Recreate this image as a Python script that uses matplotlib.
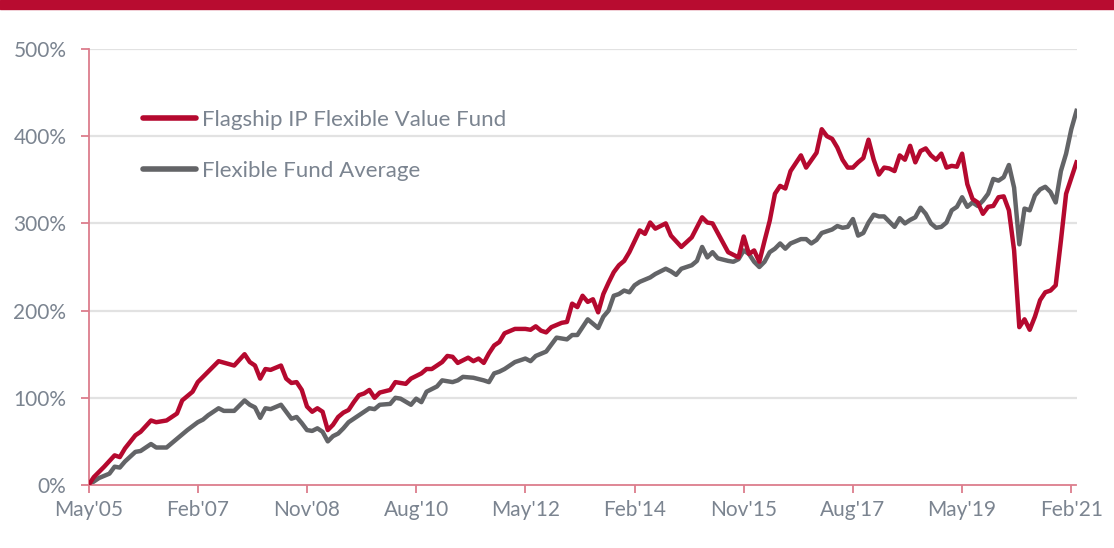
import matplotlib
matplotlib.use('Agg')
import matplotlib.pyplot as plt
from matplotlib.patches import Rectangle
from matplotlib.ticker import FuncFormatter

plt.rcParams['font.family'] = ['Lato', 'DejaVu Sans']

# months counted from May 2005 (0) up to Mar 2021 (190)
fund_month = [0, 1, 3, 5, 6, 7, 9, 10, 12, 13, 15, 17, 18, 20, 21, 22, 25, 28, 30, 31,
              32, 33, 34, 35, 37, 38, 39, 40, 41, 42, 43, 44, 45, 46, 47, 48, 49, 50, 51, 52,
              53, 54, 55, 56, 58, 59, 61, 62, 64, 65, 66, 68, 69, 70, 71, 73, 74, 75, 76, 77,
              78, 79, 80, 82, 84, 85, 86, 87, 88, 89, 91, 92, 93, 94, 95, 96, 97, 98, 99, 100,
              101, 102, 103, 104, 106, 107, 108, 109, 111, 112, 114, 116, 118, 119, 120, 122, 123, 125, 126, 127,
              128, 129, 130, 131, 132, 133, 134, 135, 137, 138, 140, 141, 142, 143, 144, 145, 146, 147, 148, 149,
              150, 151, 152, 153, 154, 155, 156, 157, 158, 159, 160, 161, 162, 163, 164, 165, 166, 167, 168, 169,
              170, 171, 172, 173, 174, 175, 176, 177, 178, 179, 180, 181, 182, 183, 184, 185, 186, 187, 188, 190]
fund_val = [0, 9, 21, 34, 32, 42, 57, 61, 74, 72, 74, 82, 97, 107, 118, 124, 142, 137, 150, 141,
            137, 122, 133, 132, 137, 122, 117, 118, 109, 90, 84, 88, 84, 63, 69, 78, 83, 86, 95, 103,
            105, 109, 100, 106, 109, 118, 116, 122, 128, 133, 133, 141, 148, 147, 140, 146, 142, 145, 140, 151,
            160, 164, 174, 179, 179, 178, 182, 177, 175, 181, 186, 187, 208, 204, 217, 210, 213, 198, 219, 232,
            244, 252, 257, 267, 292, 288, 301, 294, 300, 286, 273, 284, 307, 301, 300, 278, 267, 261, 285, 265,
            269, 256, 280, 303, 334, 343, 340, 360, 378, 364, 381, 408, 400, 397, 387, 373, 364, 364, 370, 375,
            396, 373, 356, 364, 363, 360, 378, 373, 389, 370, 383, 386, 378, 373, 380, 364, 366, 365, 380, 345,
            328, 324, 311, 319, 320, 330, 331, 315, 269, 181, 190, 178, 193, 212, 221, 223, 229, 280, 334, 370]

avg_month = [0, 2, 4, 5, 6, 7, 9, 10, 12, 13, 15, 16, 17, 19, 21, 22, 23, 25, 26, 28,
             30, 31, 32, 33, 34, 35, 37, 38, 39, 40, 41, 42, 43, 44, 45, 46, 47, 48, 49, 50,
             52, 54, 55, 56, 58, 59, 60, 62, 63, 64, 65, 67, 68, 70, 71, 72, 74, 76, 77, 78,
             79, 80, 82, 84, 85, 86, 88, 89, 90, 92, 93, 94, 95, 96, 98, 99, 100, 101, 102, 103,
             104, 105, 106, 108, 109, 111, 112, 113, 114, 116, 117, 118, 119, 120, 121, 123, 124, 125, 126, 127,
             128, 129, 130, 131, 132, 133, 134, 135, 137, 138, 139, 140, 141, 143, 144, 145, 146, 147, 148, 149,
             150, 151, 152, 153, 154, 155, 156, 157, 158, 159, 160, 161, 162, 163, 164, 165, 166, 167, 168, 169,
             170, 171, 172, 173, 174, 175, 176, 177, 178, 179, 180, 181, 182, 183, 184, 185, 186, 187, 188, 189, 190]
avg_val = [0, 8, 13, 21, 20, 27, 38, 39, 47, 43, 43, 48, 53, 63, 72, 75, 80, 88, 85, 85,
           97, 92, 89, 77, 88, 87, 92, 84, 76, 78, 71, 63, 62, 65, 61, 50, 56, 59, 65, 72,
           80, 88, 87, 92, 93, 100, 99, 92, 99, 95, 107, 113, 120, 118, 120, 124, 123, 120, 118, 128,
           130, 133, 141, 145, 142, 148, 153, 161, 169, 167, 172, 172, 181, 190, 180, 193, 200, 217, 219, 223,
           221, 229, 233, 238, 242, 248, 245, 241, 248, 252, 257, 273, 261, 267, 260, 257, 256, 259, 269, 265,
           256, 250, 256, 267, 271, 277, 271, 277, 282, 282, 277, 281, 289, 293, 297, 295, 296, 305, 286, 289,
           301, 310, 308, 308, 302, 296, 306, 300, 304, 307, 318, 311, 300, 295, 296, 301, 315, 319, 330, 319,
           324, 320, 326, 334, 351, 349, 353, 367, 341, 276, 317, 315, 332, 339, 342, 336, 324, 360, 380, 408, 429]

tick_months = [0, 21, 42, 63, 84, 105, 126, 147, 168, 189]
tick_labels = ["May'05", "Feb'07", "Nov'08", "Aug'10", "May'12",
               "Feb'14", "Nov'15", "Aug'17", "May'19", "Feb'21"]

RED = '#b5092f'
GREY = '#636467'
AXIS = '#dc7d8c'
TXT = '#7b8490'

fig = plt.figure(figsize=(11.14, 5.48), dpi=100)
ax = fig.add_axes([88.6 / 1114, 1 - 485 / 548, (1076.5 - 88.6) / 1114, (485 - 49) / 548])

# band along the top edge
fig.patches.append(Rectangle((0, 1 - 8.5 / 548), 1, 8.5 / 548, transform=fig.transFigure,
                             color='#b80c30', zorder=0))

for yv in [100, 200, 300, 400, 500]:
    ax.axhline(yv, color='#e2e2e2', lw=1.6, zorder=1)

ax.plot(fund_month, fund_val, color=RED, lw=3.2, solid_joinstyle='round',
        label='Flagship IP Flexible Value Fund', zorder=3)
ax.plot(avg_month, avg_val, color=GREY, lw=3.2, solid_joinstyle='round',
        label='Flexible Fund Average', zorder=2)

ax.set_xlim(0, 190)
ax.set_ylim(0, 500)
ax.set_xticks(tick_months)
ax.set_xticklabels(tick_labels)
ax.set_yticks([0, 100, 200, 300, 400, 500])
ax.yaxis.set_major_formatter(FuncFormatter(lambda v, p: '%d%%' % v))

for s in ['top', 'right']:
    ax.spines[s].set_visible(False)
for s in ['left', 'bottom']:
    ax.spines[s].set_color(AXIS)
    ax.spines[s].set_linewidth(1.3)
ax.tick_params(axis='both', colors=AXIS, labelcolor=TXT, labelsize=15, length=6, width=1.3)
ax.tick_params(axis='y', pad=10)
ax.tick_params(axis='x', pad=5)

leg = ax.legend(loc='upper left', bbox_to_anchor=((143 - 88.6) / 988, (485 - 110) / 436),
                frameon=False, fontsize=16, handlelength=2.4, handletextpad=0.27,
                labelspacing=1.4, borderpad=0, borderaxespad=0)
for t in leg.get_texts():
    t.set_color(TXT)
for l in leg.get_lines():
    l.set_linewidth(4)
    l.set_solid_capstyle('round')

fig.savefig('out.png', dpi=100)
